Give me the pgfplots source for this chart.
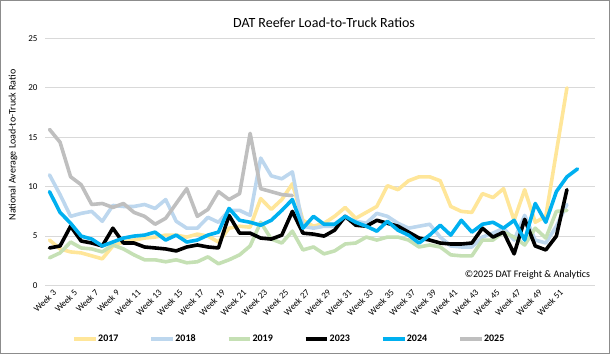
\documentclass[border=0pt]{standalone}
\usepackage{fontspec}
\setmainfont{Carlito}
\usepackage{pgfplots}
\pgfplotsset{compat=1.18}
\definecolor{c2017}{HTML}{FFE699}
\definecolor{c2018}{HTML}{BDD7EE}
\definecolor{c2019}{HTML}{C5E0B4}
\definecolor{c2023}{HTML}{000000}
\definecolor{c2024}{HTML}{00B0F0}
\definecolor{c2025}{HTML}{BFBFBF}
\definecolor{gridc}{HTML}{D9D9D9}
\definecolor{framec}{HTML}{8C8C8C}
\begin{document}
\begin{tikzpicture}
\useasboundingbox (0bp,0bp) rectangle (610bp,354bp);
\begin{axis}[
  at={(45bp,68.5bp)}, anchor=south west,
  scale only axis, width=550bp, height=247bp,
  xmin=2.574, xmax=54.66, ymin=0, ymax=25,
  ytick={0,5,...,25}, xtick={3,5,...,51},
  xticklabel={Week \pgfmathprintnumber{\tick}},
  /pgf/number format/assume math mode=true,
  axis line style={draw=none}, tick style={draw=none},
  ymajorgrids, grid style={color=gridc, line width=0.8bp},
  xticklabel style={rotate=45, anchor=north east, font=\fontsize{9bp}{10bp}\selectfont, xshift=3bp, yshift=-1bp},
  yticklabel style={font=\fontsize{9bp}{10bp}\selectfont, xshift=-4bp},
  every axis plot/.append style={line width=3.6bp, line join=round, line cap=round, no markers},
  legend columns=6,
  legend image code/.code={\draw[#1, line cap=butt] (0bp,0bp) -- (21.6bp,0bp);},
  legend style={at={(0.0495,-0.2166)}, anchor=west, draw=none, fill=none,
    inner xsep=0pt, inner ysep=0pt, nodes={inner sep=0.6bp},
    font=\bfseries\fontsize{10bp}{12bp}\selectfont,
    /tikz/every even column/.append style={column sep=30.5bp}},
]
\addplot[color=c2017] table {
3 4.6
4 3.7
5 3.4
6 3.3
7 3.0
8 2.7
9 4.0
10 4.4
11 4.6
12 4.8
13 4.9
14 5.1
15 5.1
16 4.9
17 5.2
18 5.0
19 4.4
20 5.8
21 6.0
22 5.9
23 8.8
24 7.7
25 8.7
26 10.3
27 6.6
28 6.0
29 6.3
30 7.0
31 7.9
32 6.8
33 7.4
34 8.0
35 10.1
36 9.7
37 10.6
38 11.0
39 11.0
40 10.6
41 8.0
42 7.5
43 7.4
44 9.3
45 8.9
46 9.8
47 6.6
48 9.7
49 6.4
50 7.0
51 13.5
52 20.0
};
\addlegendentry{2017}
\addplot[color=c2018] table {
3 11.2
4 9.2
5 7.0
6 7.3
7 7.5
8 6.5
9 8.1
10 8.0
11 8.0
12 8.2
13 7.8
14 8.7
15 6.5
16 5.8
17 5.8
18 6.9
19 6.4
20 7.6
21 7.6
22 7.1
23 12.9
24 11.1
25 10.8
26 11.5
27 6.0
28 5.8
29 6.0
30 6.0
31 6.8
32 6.5
33 6.3
34 7.3
35 7.0
36 6.3
37 5.8
38 6.0
39 6.2
40 4.9
41 4.0
42 3.9
43 3.9
44 4.9
45 5.3
46 5.8
47 4.6
48 7.1
49 4.6
50 4.3
51 6.0
52 8.2
};
\addlegendentry{2018}
\addplot[color=c2019] table {
3 2.8
4 3.3
5 4.4
6 3.8
7 3.7
8 3.4
9 4.1
10 3.7
11 3.1
12 2.6
13 2.6
14 2.4
15 2.6
16 2.3
17 2.4
18 2.9
19 2.2
20 2.6
21 3.1
22 4.0
23 6.4
24 4.7
25 4.3
26 5.5
27 3.6
28 3.9
29 3.2
30 3.5
31 4.2
32 4.3
33 4.9
34 4.6
35 4.9
36 4.9
37 4.6
38 3.9
39 4.1
40 3.9
41 3.1
42 3.0
43 3.0
44 4.6
45 4.6
46 5.4
47 4.9
48 4.1
49 5.8
50 4.8
51 7.5
52 7.6
};
\addlegendentry{2019}
\addplot[color=c2023] table {
3 3.8
4 4.0
5 6.0
6 4.5
7 4.3
8 4.0
9 5.8
10 4.3
11 4.3
12 3.9
13 3.8
14 3.7
15 3.5
16 3.9
17 4.1
18 3.9
19 3.8
20 7.1
21 5.3
22 5.3
23 4.8
24 4.7
25 5.1
26 7.5
27 5.3
28 5.2
29 5.0
30 5.6
31 7.0
32 6.1
33 6.0
34 6.6
35 6.3
36 6.0
37 5.4
38 4.8
39 4.6
40 4.3
41 4.2
42 4.2
43 4.3
44 5.8
45 4.9
46 5.4
47 3.2
48 6.7
49 4.0
50 3.6
51 5.0
52 9.7
};
\addlegendentry{2023}
\addplot[color=c2024] table {
3 9.5
4 7.4
5 6.3
6 5.0
7 4.7
8 4.0
9 4.4
10 4.8
11 5.0
12 5.1
13 5.4
14 4.6
15 5.1
16 4.4
17 4.6
18 5.1
19 5.4
20 7.8
21 6.6
22 6.4
23 6.1
24 6.6
25 7.6
26 8.7
27 5.8
28 7.0
29 6.2
30 6.2
31 7.0
32 6.4
33 6.0
34 5.5
35 6.5
36 5.6
37 5.1
38 4.3
39 5.1
40 6.1
41 5.1
42 6.6
43 5.4
44 6.2
45 6.4
46 5.8
47 6.6
48 4.6
49 8.3
50 6.4
51 9.5
52 11.0
53 11.8
};
\addlegendentry{2024}
\addplot[color=c2025] table {
3 15.8
4 14.5
5 11.0
6 10.2
7 8.2
8 8.3
9 7.9
10 8.3
11 7.4
12 7.0
13 6.2
14 6.8
15 8.3
16 9.8
17 7.0
18 7.7
19 9.5
20 8.7
21 9.3
22 15.4
23 9.8
24 9.5
25 9.2
26 9.1
};
\addlegendentry{2025}
\end{axis}
\node[font=\fontsize{14bp}{16bp}\selectfont] at (324bp,331bp) {DAT Reefer Load-to-Truck Ratios};
\node[rotate=90, font=\fontsize{10bp}{12bp}\selectfont] at (13bp,209bp) {National Average Load-to-Truck Ratio};
\node[anchor=east, font=\fontsize{10bp}{12bp}\selectfont] at (593.5bp,79bp) {©2025 DAT Freight \& Analytics};
\draw[line width=1bp, color=framec] (0.5bp,0.5bp) rectangle (609.5bp,353.5bp);
\end{tikzpicture}
\end{document}
